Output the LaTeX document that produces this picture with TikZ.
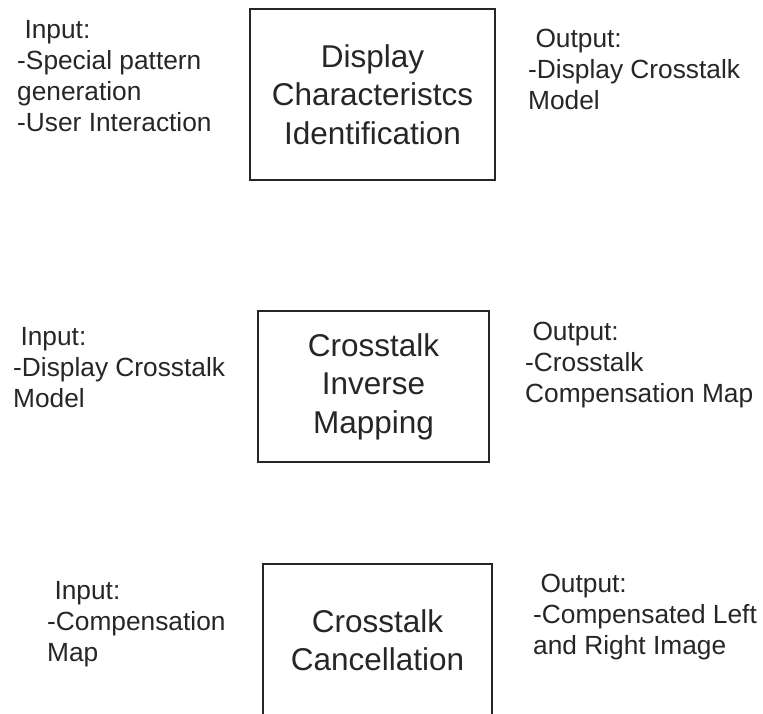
\documentclass[tikz,border=0pt]{standalone}
\usepackage{fontspec}
\setmainfont{Liberation Sans}
\begin{document}
\begin{tikzpicture}[x=1pt,y=-1pt,
  stage/.style={draw=black!85, line width=1.6pt, inner sep=0pt, align=center,
    font=\fontsize{31.5}{38.5}\selectfont, text=black!85},
  note/.style={inner sep=0pt, align=left, anchor=base west,
    font=\fontsize{26.3}{31}\selectfont, text=black!85}]
\useasboundingbox (0,0) rectangle (763,713);
\clip (0,0) rectangle (763,713);

% processing stages
\node[stage, minimum width=245pt, minimum height=171pt] (ident) at (372.5,94.5)
  {Display\\Characteristcs\\Identification};
\node[stage, minimum width=231pt, minimum height=151pt] (inverse) at (373.5,386.5)
  {Crosstalk\\Inverse\\Mapping};
\node[stage, minimum width=229pt, minimum height=152pt] (cancel) at (377.5,640)
  {Crosstalk\\Cancellation};

% inputs and outputs of each stage (placed by the baseline of their last line)
\node[note] (in1) at (17,131)
  {\hspace*{0.278em}Input:\\-Special pattern\\generation\\-User Interaction};
\node[note] (out1) at (528,109)
  {\hspace*{0.278em}Output:\\-Display Crosstalk\\Model};
\node[note] (in2) at (13,407)
  {\hspace*{0.278em}Input:\\-Display Crosstalk\\Model};
\node[note] (out2) at (525,402)
  {\hspace*{0.278em}Output:\\-Crosstalk\\Compensation Map};
\node[note] (in3) at (47,661)
  {\hspace*{0.278em}Input:\\-Compensation\\Map};
\node[note] (out3) at (533,654)
  {\hspace*{0.278em}Output:\\-Compensated Left\\and Right Image};
\end{tikzpicture}
\end{document}
